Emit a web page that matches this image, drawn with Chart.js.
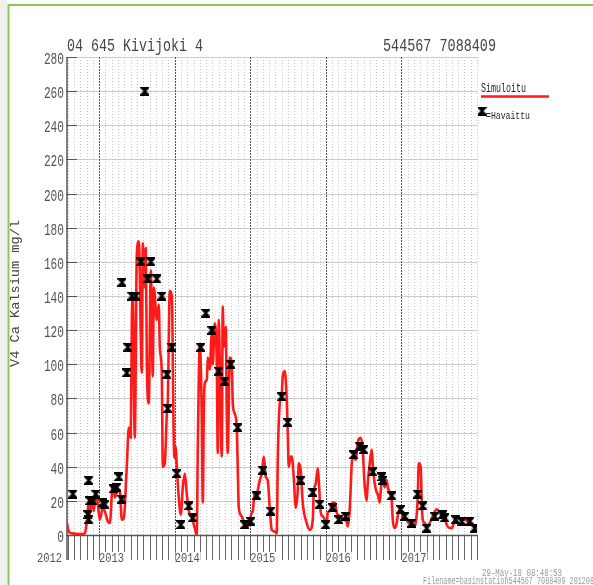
<!DOCTYPE html>
<html><head><meta charset="utf-8">
<style>html,body{margin:0;padding:0;background:#fff;overflow:hidden}#wrap{width:593px;height:585px;position:relative}</style>
<script src="https://cdn.jsdelivr.net/npm/chart.js@4.4.1/dist/chart.umd.min.js"></script>
</head><body><div id="wrap"><canvas id="c" width="593" height="585"></canvas></div>
<script>
// ---- data (x in decimal years, y in mg/l) ----
const simX = [2012.573,2012.599,2012.639,2012.745,2012.811,2012.837,2012.864,2012.877,2012.903,2012.930,2012.956,2012.983,
2013.009,2013.049,2013.075,2013.115,2013.142,2013.181,2013.208,2013.234,2013.274,2013.300,2013.327,2013.366,2013.393,2013.419,
2013.433,2013.446,2013.472,2013.499,2013.525,2013.565,2013.578,2013.605,2013.618,2013.631,2013.657,2013.684,2013.710,2013.724,
2013.763,2013.790,2013.803,2013.829,2013.843,2013.869,2013.896,2013.909,2013.935,2013.962,2013.988,
2014.001,2014.015,2014.028,2014.054,2014.081,2014.107,2014.134,2014.160,2014.187,2014.226,2014.266,2014.292,2014.306,2014.332,
2014.358,2014.372,2014.385,2014.398,2014.425,2014.438,2014.464,2014.491,2014.504,2014.530,2014.557,2014.570,2014.583,2014.597,
2014.623,2014.636,2014.649,2014.676,2014.689,2014.702,2014.729,2014.755,2014.769,2014.795,2014.821,2014.835,2014.848,2014.888,
2014.927,2014.967,
2015.020,2015.033,2015.060,2015.086,2015.099,2015.126,2015.152,2015.179,2015.205,2015.231,2015.258,2015.284,2015.324,2015.351,
2015.364,2015.390,2015.417,2015.430,2015.456,2015.483,2015.496,2015.509,2015.536,2015.549,2015.575,2015.602,2015.628,2015.642,
2015.668,2015.694,2015.747,2015.787,2015.827,2015.840,2015.866,2015.893,2015.906,2015.933,2015.959,2015.985,
2016.012,2016.025,2016.052,2016.091,2016.118,2016.144,2016.184,2016.224,2016.276,2016.290,2016.316,2016.343,2016.356,2016.396,
2016.422,2016.435,2016.462,2016.488,2016.515,2016.541,2016.554,2016.581,2016.607,2016.620,2016.647,2016.673,2016.687,2016.713,
2016.739,2016.753,2016.779,2016.806,2016.819,2016.845,2016.872,2016.885,2016.911,2016.938,2016.951,2016.978,
2017.004,2017.017,2017.044,2017.070,2017.097,2017.136,2017.163,2017.189,2017.216,2017.229,2017.255,2017.269,2017.282,2017.308,
2017.335,2017.374,2017.414,2017.467,2017.493,2017.533,2017.573,2017.612,2017.665,2017.679,2017.705,2017.745,2017.798,2017.837,
2017.877,2017.930,2017.970,2017.996];
const simY = [7,2,1,0.5,1,8,20,12,22,14,25,18,
9,16,14,8,7,30,22,25,26,9,10,40,63,57,
126,139,57,165,172,95,171,145,168,102,77,155,93,145,
126,135,110,95,40,42,71,79,143,140,55,
45,52,40,22,12,28,36,24,14,10,4,0,52,112,
71,19,73,89,91,104,97,118,100,124,100,48,126,100,
46,134,110,122,75,48,104,100,77,71,63,38,16,11,
5,5,
13,14,25,22,26,32,36,46,34,32,16,3,2,1,
44,77,83,93,96,79,60,40,46,46,34,16,26,42,
38,19,7,3,9,25,30,39,32,13,11,9,
7,13,14,19,19,13,11,9,8,5,15,42,46,44,
54,56,57,50,28,20,30,42,50,42,30,25,24,19,
32,32,28,32,28,25,20,9,4,7,11,15,
13,11,10,9,7,7,5,7,22,42,40,19,9,7,
5,7,11,15,14,11,9,5,4,5,9,10,9,9,
8,7,5,4];
const obsX = [2012.652,2012.851,2012.864,2012.862,2012.877,2012.917,2012.956,2013.049,2013.075,2013.194,2013.234,2013.261,
2013.300,2013.302,2013.366,2013.380,2013.433,2013.485,2013.552,2013.605,2013.644,2013.684,2013.763,2013.829,2013.896,2013.909,
2013.962,2014.028,2014.081,2014.187,2014.239,2014.345,2014.411,2014.491,2014.583,2014.663,2014.742,2014.835,2014.927,
2015.007,2015.086,2015.165,2015.271,2015.417,2015.496,2015.668,2015.827,2015.919,2015.999,
2016.091,2016.171,2016.263,2016.369,2016.448,2016.501,2016.620,2016.739,2016.753,2016.872,2016.991,
2017.044,2017.136,2017.216,2017.282,2017.335,2017.440,2017.546,2017.573,2017.718,2017.798,2017.904,2017.970];
const obsY = [24,12,9,32,20,20,24,19,18,27,28,34,
21,148,95,110,140,140,160,260,150,160,150,140,94,74,
110,36,6,17,10,110,130,120,96,90,100,63,6,
8,23,38,14,81,66,32,25,18,6,
16,9,11,47,52,50,37,34,32,23,15,
11,7,24,17,4,11,12,10,9,8,8,4];
const yTicks = [0,20,40,60,80,100,120,140,160,180,200,220,240,260,280];
const yearTickValues = [2012,2013,2014,2015,2016,2017];
const yearTickLabels = ['2012','2013','2014','2015','2016','2017'];
const titleLeft = '04 645 Kivijoki 4';
const titleRight = '544567 7088409';
const yTitle = 'V4 Ca Kalsium mg/l';
const legendSim = 'Simuloitu';
const legendObs = '=Havaittu';
const stampText = '29-May-18 08:48:53';
const fileText = 'Filename=basinstation544567 7088409 201208';

// ---- marker glyph ----
function makeMarker(){
  const c = document.createElement('canvas'); c.width = 9; c.height = 9;
  const g = c.getContext('2d');
  g.fillStyle = '#000';
  g.beginPath(); g.moveTo(0.5,0.5); g.lineTo(8.5,0.5); g.lineTo(0.5,8.5); g.lineTo(8.5,8.5); g.closePath(); g.fill();
  g.strokeStyle = '#000'; g.lineWidth = 2;
  g.beginPath(); g.moveTo(1,1); g.lineTo(8,8); g.moveTo(8,1); g.lineTo(1,8); g.stroke();
  g.fillRect(0,0,9,1.5); g.fillRect(0,7.5,9,1.5);
  return c;
}
const marker = makeMarker();

const MONO = '"Liberation Mono", "DejaVu Sans Mono", monospace';
function fitText(ctx, text, x, y, size, width, align, color){
  ctx.save();
  ctx.font = size + 'px ' + MONO;
  const w = ctx.measureText(text).width;
  const s = width / w;
  ctx.translate(x, y); ctx.scale(s, 1);
  ctx.fillStyle = color; ctx.textBaseline = 'alphabetic'; ctx.textAlign = 'left';
  const ox = align === 'right' ? -w : (align === 'center' ? -w/2 : 0);
  ctx.fillText(text, ox, 0);
  ctx.restore();
}
function seg(ctx, x1, y1, x2, y2, color, lw, dash){
  ctx.save(); ctx.strokeStyle = color; ctx.lineWidth = lw; ctx.setLineDash(dash || []);
  ctx.beginPath(); ctx.moveTo(x1, y1); ctx.lineTo(x2, y2); ctx.stroke(); ctx.restore();
}

const decor = {
  id: 'decor',
  beforeDraw(chart){
    const ctx = chart.ctx;
    ctx.save();
    ctx.fillStyle = '#fff'; ctx.fillRect(0,0,chart.width,chart.height);
    ctx.fillStyle = '#f0f0f0'; ctx.fillRect(0,0,7.5,chart.height);
    ctx.strokeStyle = '#8fc757'; ctx.lineWidth = 2;
    ctx.beginPath(); ctx.moveTo(8.5, chart.height); ctx.lineTo(8.5, 5); ctx.lineTo(chart.width, 5); ctx.stroke();
    ctx.restore();
  },
  beforeDatasetsDraw(chart){
    const ctx = chart.ctx, xs = chart.scales.x, ys = chart.scales.y, a = chart.chartArea;
    // horizontal grid
    yTicks.forEach(v => {
      const py = Math.round(ys.getPixelForValue(v)) + 0.5;
      seg(ctx, a.left, py, a.right, py, '#cccccc', 1);
    });
    // monthly grid + bottom ticks
    for (let yr = 2012; yr <= 2018; yr++) {
      for (let mo = 0; mo < 12; mo++) {
        const v = yr + mo / 12;
        if (v < xs.min - 1e-6 || v > xs.max + 1e-6) continue;
        const px = Math.round(xs.getPixelForValue(v)) + 0.5;
        if (mo === 0 && v < xs.max - 1e-6) seg(ctx, px, a.top, px, a.bottom, '#555', 1, [2,1]);
        else seg(ctx, px, a.top, px, a.bottom, '#c4c4c4', 1, [1,2]);
        seg(ctx, px, a.bottom, px, a.bottom + 25, '#666', 1);
      }
    }
    // axes
    seg(ctx, a.left, a.top, a.left, a.bottom + 25, '#555', 1.5);
    seg(ctx, a.left, a.bottom + 0.5, a.right, a.bottom + 0.5, '#555', 1.5);
    // y ticks inward + labels
    yTicks.forEach(v => {
      const py = Math.round(ys.getPixelForValue(v)) + 0.5;
      seg(ctx, a.left - 1, py, a.left + 10, py, '#555', 1);
      const t = String(v);
      fitText(ctx, t, a.left - 3, py + 6, 16, 6.7 * t.length, 'right', '#555');
    });
    // year labels
    yearTickValues.forEach((v, i) => {
      const t = yearTickLabels[i];
      let px, align;
      if (v < xs.min) { px = a.left - 5; align = 'right'; }
      else { px = xs.getPixelForValue(v); align = 'left'; }
      const w = 25;
      ctx.save(); ctx.fillStyle = '#fff';
      ctx.fillRect(align === 'right' ? px - w - 1 : px + 1, a.bottom + 17, w, 11);
      ctx.restore();
      fitText(ctx, t, px, a.bottom + 27, 12, w, align, '#555');
    });
    // titles
    fitText(ctx, titleLeft, a.left, 51, 18, 136, 'left', '#444');
    fitText(ctx, titleRight, 383, 51, 18, 113, 'left', '#444');
    // y axis title
    ctx.save(); ctx.translate(18.5, 367); ctx.rotate(-Math.PI/2);
    fitText(ctx, yTitle, 0, 0, 13, 147, 'left', '#444');
    ctx.restore();
    // legend
    fitText(ctx, legendSim, 481, 92, 12, 45, 'left', '#222');
    seg(ctx, 481, 96.5, 549, 96.5, '#ff1a1a', 2.5);
    ctx.drawImage(marker, 477.5, 106.5);
    fitText(ctx, legendObs, 486, 119, 11, 44, 'left', '#222');
    // footer
    fitText(ctx, stampText, 482, 576, 10, 80, 'left', '#9a9a9a');
    fitText(ctx, fileText, 423, 584, 10, 171, 'left', '#9a9a9a');
  }
};

const simData = simX.map((x, i) => ({x: x, y: simY[i]}));
const obsData = obsX.map((x, i) => ({x: x, y: obsY[i]}));

new Chart(document.getElementById('c'), {
  type: 'line',
  data: { datasets: [
    { label: 'Havaittu', data: obsData, showLine: false, pointStyle: marker, pointRadius: 4, order: 0 },
    { label: 'Simuloitu', data: simData, borderColor: '#ff1a1a', borderWidth: 2.6, pointRadius: 0, cubicInterpolationMode: 'monotone', fill: false, order: 1 }
  ]},
  options: {
    responsive: false, animation: false, devicePixelRatio: 1,
    layout: { padding: { left: 67, top: 57, right: 116, bottom: 50 } },
    scales: {
      x: { type: 'linear', display: false, min: 2012.575, max: 2018.0 },
      y: { type: 'linear', display: false, min: 0, max: 280 }
    },
    plugins: { legend: { display: false }, tooltip: { enabled: false } },
    events: []
  },
  plugins: [decor]
});
</script>
</body></html>
